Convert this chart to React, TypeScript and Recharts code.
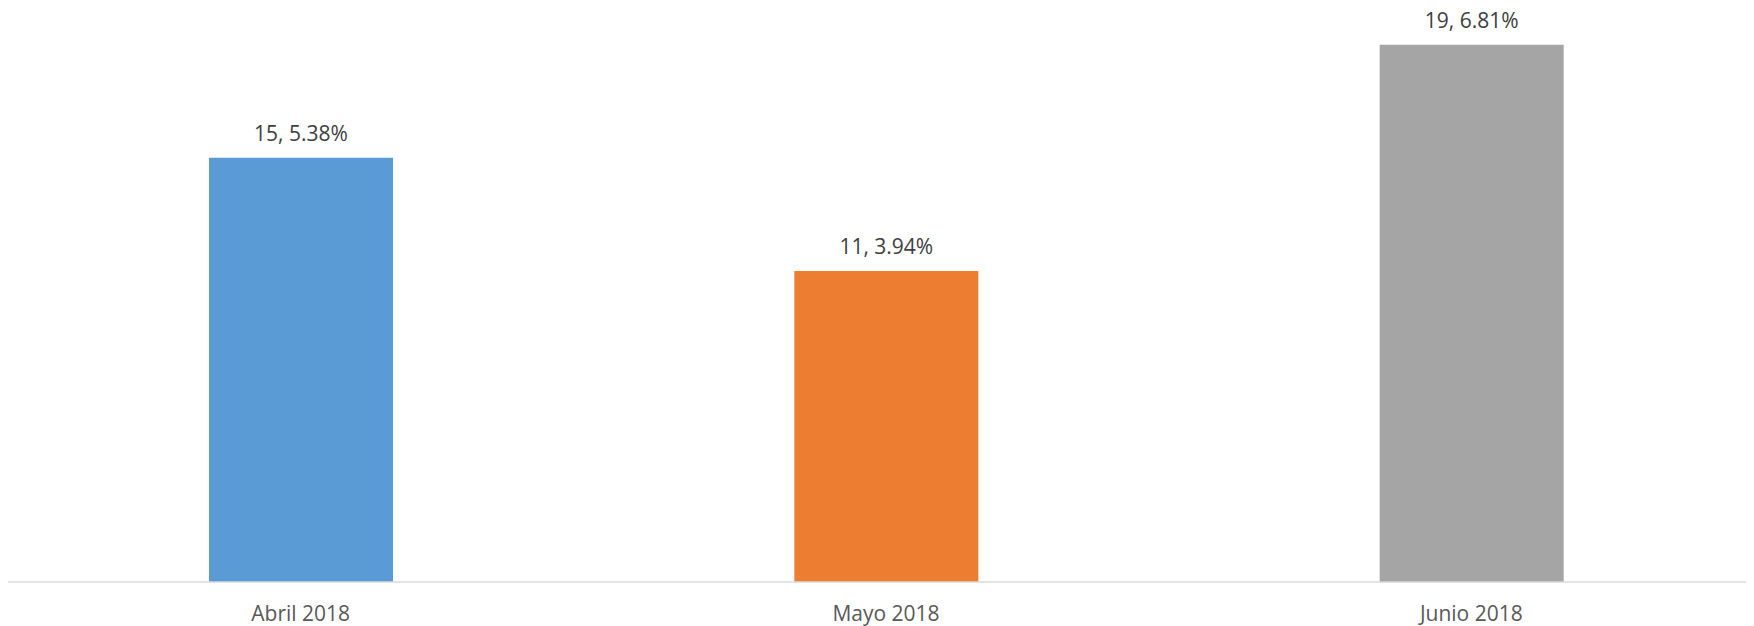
import React from 'react'
import { BarChart, Bar, XAxis, YAxis, Cell, LabelList } from 'recharts'

const months = ['Abril 2018', 'Mayo 2018', 'Junio 2018']
const counts = [15, 11, 19]
const percents = ['5.38%', '3.94%', '6.81%']
const barColors = ['#5B9BD5', '#ED7D31', '#A5A5A5']

const data = months.map((month, i) => ({
    month,
    count: counts[i],
    pct: percents[i],
}))

const FONT = '"Open Sans", "Noto Sans", sans-serif'

function BarLabel(props: any) {
    const { x, y, width, index } = props
    const row = data[index]
    return (
        <text
            x={x + width / 2}
            y={y - 25}
            textAnchor="middle"
            dominantBaseline="central"
            fill="#404040"
            fontSize={21}
            fontFamily={FONT}
        >
            {`${row.count}, ${row.pct}`}
        </text>
    )
}

export default function App() {
    // pull the chart up over the body margin so the top label is not clipped
    return (
        <div style={{ width: 1746, height: 626, overflow: 'hidden', marginTop: -8 }}>
            <BarChart
                width={1756}
                height={626}
                data={data}
                margin={{ top: 16.4, right: 0, left: 0, bottom: 0 }}
            >
                <XAxis
                    dataKey="month"
                    height={44}
                    tickLine={false}
                    tickSize={0}
                    tickMargin={24}
                    axisLine={{ stroke: '#D9D9D9', strokeWidth: 1.3 }}
                    tick={{ fill: '#595959', fontSize: 21, fontFamily: FONT }}
                    interval={0}
                />
                <YAxis hide domain={[0, 20]} />
                <Bar dataKey="count" barSize={184} isAnimationActive={false}>
                    {data.map((_, i) => (
                        <Cell key={i} fill={barColors[i]} />
                    ))}
                    <LabelList dataKey="count" content={BarLabel} />
                </Bar>
            </BarChart>
        </div>
    )
}
